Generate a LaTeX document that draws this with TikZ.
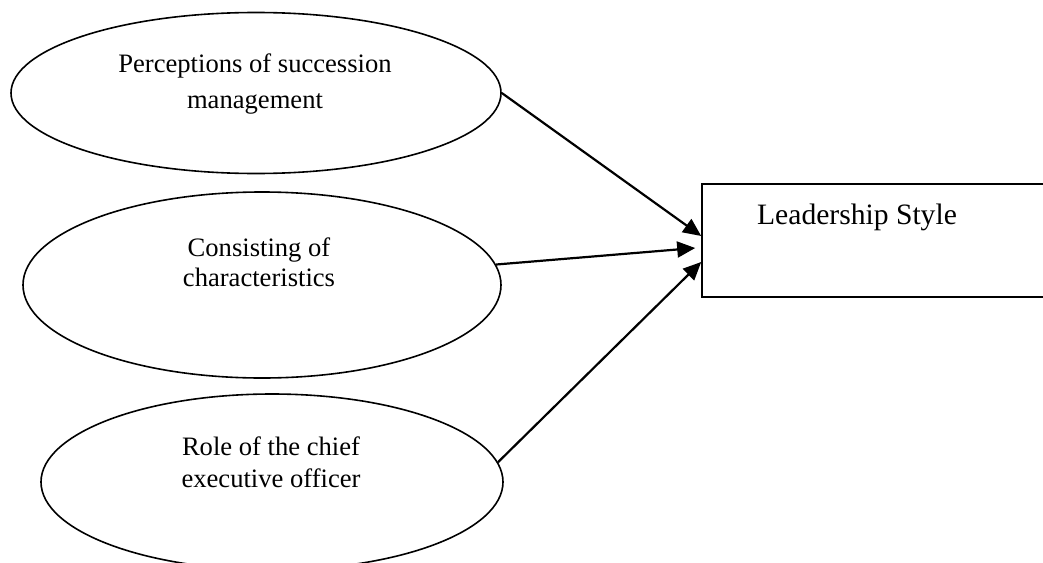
\documentclass[tikz,border=0pt]{standalone}
\usepackage{fontspec}
\setmainfont{Liberation Serif}
\usetikzlibrary{shapes.geometric,arrows.meta}
\begin{document}
\begin{tikzpicture}[x=0.5pt,y=-0.5pt,
  oval/.style={draw, ellipse, line width=0.8pt, inner sep=0pt},
  lbl/.style={anchor=base, inner sep=0pt},
  arr/.style={-{Triangle[length=9pt,width=8pt]}, line width=1.1pt}]
\useasboundingbox (0,0) rectangle (1043,562);
\clip (0,0) rectangle (1043,562);
% ellipses
\node[oval, minimum width=245pt, minimum height=80.5pt] (e1) at (256,93) {};
\node[oval, minimum width=239pt, minimum height=93pt] (e2) at (262,285) {};
\node[oval, minimum width=231pt, minimum height=88pt] (e3) at (272,482) {};
\node[lbl, font=\fontsize{13.3}{18}\selectfont] (t1) at (255,72)
  {\begin{tabular}[t]{@{}c@{}}Perceptions of succession\\management\end{tabular}};
\node[lbl, font=\fontsize{13.3}{15}\selectfont] (t2) at (259,256)
  {\begin{tabular}[t]{@{}c@{}}Consisting of\\characteristics\end{tabular}};
\node[lbl, font=\fontsize{13.3}{16}\selectfont] (t3) at (271,455)
  {\begin{tabular}[t]{@{}c@{}}Role of the chief\\executive officer\end{tabular}};
% box
\node[draw, line width=0.8pt, inner sep=0pt, minimum width=179pt, minimum height=56.5pt] (box) at (881,240.5) {};
\node[lbl, font=\fontsize{14.8}{18}\selectfont] (tl) at (857,224) {Leadership Style};
% arrows
\draw[arr] (e1.east) -- ([yshift=2.25pt]box.west);
\draw[arr] (e2.5) -- ([xshift=-3pt,yshift=-3.75pt]box.west);
\draw[arr] (e3.5.4) -- ([yshift=-10.75pt]box.west);
\end{tikzpicture}
\end{document}
